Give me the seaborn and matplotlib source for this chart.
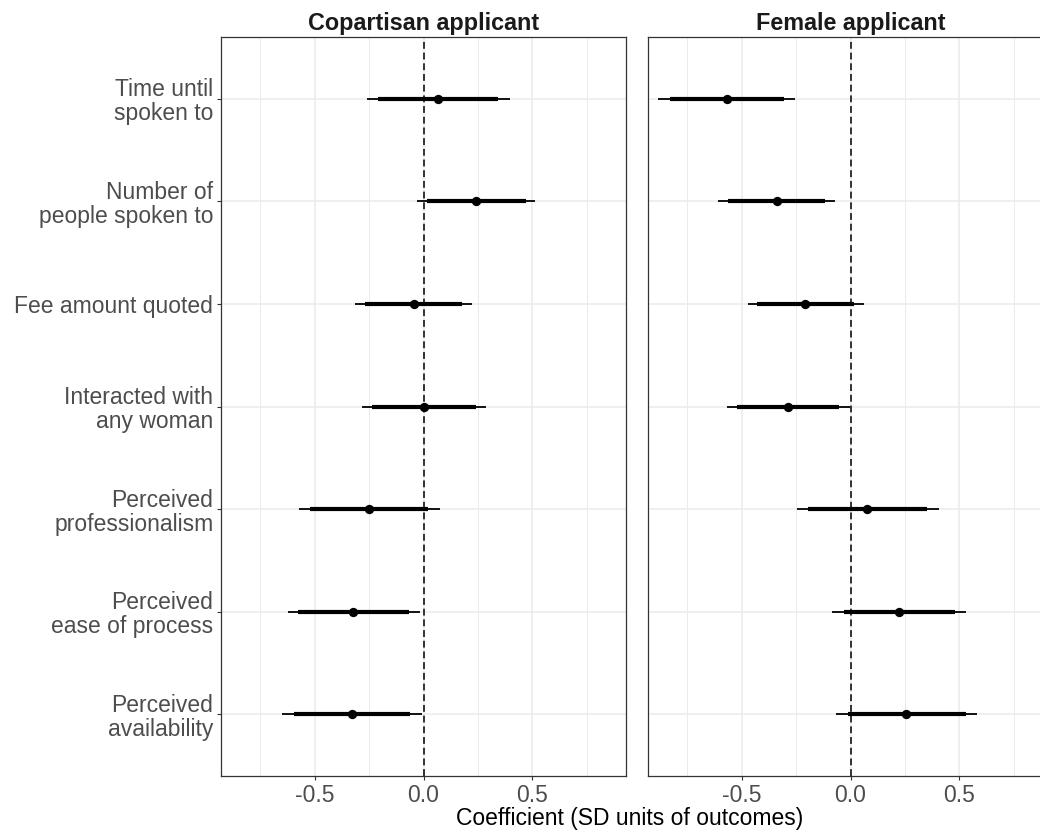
import numpy as np
import pandas as pd
import matplotlib
matplotlib.use("Agg")
import matplotlib.pyplot as plt
import seaborn as sns

# ---------------- data ----------------
outcomes = [
    "Time until\nspoken to",
    "Number of\npeople spoken to",
    "Fee amount quoted",
    "Interacted with\nany woman",
    "Perceived\nprofessionalism",
    "Perceived\nease of process",
    "Perceived\navailability",
]
panels = ["Copartisan applicant", "Female applicant"]

cop_est = [0.068, 0.241, -0.045, 0.002, -0.249, -0.322, -0.328]
cop_lo95 = [-0.261, -0.031, -0.313, -0.282, -0.572, -0.624, -0.650]
cop_hi95 = [0.397, 0.512, 0.224, 0.288, 0.077, -0.018, -0.005]
cop_lo90 = [-0.207, 0.014, -0.267, -0.235, -0.519, -0.575, -0.597]
cop_hi90 = [0.344, 0.469, 0.178, 0.241, 0.021, -0.068, -0.060]

fem_est = [-0.569, -0.339, -0.207, -0.285, 0.078, 0.222, 0.256]
fem_lo95 = [-0.882, -0.607, -0.473, -0.568, -0.248, -0.083, -0.066]
fem_hi95 = [-0.255, -0.069, 0.061, -0.003, 0.407, 0.529, 0.581]
fem_lo90 = [-0.830, -0.563, -0.428, -0.521, -0.193, -0.032, -0.012]
fem_hi90 = [-0.305, -0.115, 0.015, -0.051, 0.353, 0.479, 0.529]

x_ticks = [-0.5, 0.0, 0.5]
x_tick_labels = ["-0.5", "0.0", "0.5"]
x_minor = [-0.75, -0.25, 0.25, 0.75]
x_title = "Coefficient (SD units of outcomes)"

frames = []
for p, est, lo95, hi95, lo90, hi90 in [
    (panels[0], cop_est, cop_lo95, cop_hi95, cop_lo90, cop_hi90),
    (panels[1], fem_est, fem_lo95, fem_hi95, fem_lo90, fem_hi90),
]:
    frames.append(pd.DataFrame({
        "panel": p, "outcome": outcomes, "pos": np.arange(len(outcomes)),
        "est": est, "lo95": lo95, "hi95": hi95, "lo90": lo90, "hi90": hi90,
    }))
df = pd.concat(frames, ignore_index=True)

# ---------------- style ----------------
sns.set_theme(style="white")
plt.rcParams["font.family"] = ["Liberation Sans", "DejaVu Sans"]
plt.rcParams["axes.unicode_minus"] = False

W, H = 1040, 832
fig = plt.figure(figsize=(W / 100, H / 100), dpi=100)
fig.patch.set_facecolor("white")

top_px, bot_px = 37, 776
panel_w = 405
lefts = [221, 648]
axes = []
for lp in lefts:
    ax = fig.add_axes([lp / W, (H - bot_px) / H, panel_w / W, (bot_px - top_px) / H])
    axes.append(ax)

grid_c = "#EBEBEB"
for i, (ax, p) in enumerate(zip(axes, panels)):
    d = df[df["panel"] == p]
    ax.set_facecolor("white")
    ax.set_xlim(-0.93, 0.93)
    ax.set_ylim(len(outcomes) - 0.4, -0.6)
    ax.set_xticks(x_ticks)
    ax.set_xticklabels(x_tick_labels)
    ax.set_xticks(x_minor, minor=True)
    ax.set_yticks(d["pos"].values)
    ax.set_axisbelow(True)
    ax.grid(which="major", axis="both", color=grid_c, lw=1.1)
    ax.grid(which="minor", axis="x", color=grid_c, lw=0.7)
    ax.axvline(0, color="black", lw=1.1, ls=(0, (4.5, 2.5)), zorder=2)
    ax.hlines(d["pos"], d["lo95"], d["hi95"], color="black", lw=1.3, zorder=3, capstyle="butt")
    ax.hlines(d["pos"], d["lo90"], d["hi90"], color="black", lw=3.0, zorder=4, capstyle="butt")
    sns.scatterplot(data=d, x="est", y="pos", ax=ax, color="black", s=45,
                    edgecolor="black", linewidth=0, zorder=5, legend=False)
    ax.set_xlabel("")
    ax.set_ylabel("")
    for s in ax.spines.values():
        s.set_visible(True)
        s.set_color("#333333")
        s.set_linewidth(0.9)
    ax.tick_params(axis="x", which="major", length=3.0, width=0.8, color="#333333",
                   labelcolor="#4D4D4D", labelsize=16.5, pad=2.5, bottom=True)
    ax.tick_params(axis="x", which="minor", length=0)
    if i == 0:
        ax.set_yticklabels(d["outcome"].values)
        ax.tick_params(axis="y", length=3.0, width=0.8, color="#333333",
                       labelcolor="#4D4D4D", labelsize=16.5, pad=2.5, left=True)
        for t in ax.get_yticklabels():
            t.set_linespacing(1.05)
    else:
        ax.set_yticklabels([])
        ax.tick_params(axis="y", length=0)
    ax.set_title(p, fontsize=16.8, fontweight="bold", color="#1A1A1A", pad=5)

fig.text(630 / W, 1 - 818 / H, x_title, ha="center", va="center",
         fontsize=16.5, color="black")

fig.savefig("out.png", dpi=100, facecolor="white")
